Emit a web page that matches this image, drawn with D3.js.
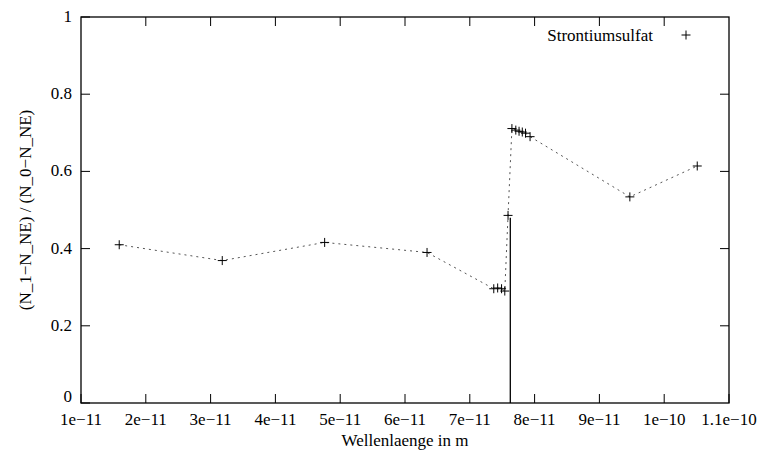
<!DOCTYPE html>
<html>
<head>
<meta charset="utf-8">
<script src="https://cdn.jsdelivr.net/npm/d3@7"></script>
</head>
<body style="margin:0">
<div id="wrapper"></div>
<script>
// DATA
const wavelengths = [1.59e-11, 3.18e-11, 4.76e-11, 6.34e-11,
    7.37e-11, 7.43e-11, 7.49e-11, 7.54e-11, 7.59e-11,
    7.65e-11, 7.71e-11, 7.76e-11, 7.81e-11, 7.86e-11, 7.93e-11,
    9.47e-11, 1.051e-10]
const ratios = [0.410, 0.369, 0.416, 0.390,
    0.296, 0.298, 0.296, 0.290, 0.486,
    0.711, 0.707, 0.704, 0.702, 0.699, 0.690,
    0.534, 0.614]
const xTicks = [1e-11, 2e-11, 3e-11, 4e-11, 5e-11, 6e-11, 7e-11, 8e-11, 9e-11, 1e-10, 1.1e-10]
const xTickLabels = ["1e\u221211", "2e\u221211", "3e\u221211", "4e\u221211", "5e\u221211", "6e\u221211",
    "7e\u221211", "8e\u221211", "9e\u221211", "1e\u221210", "1.1e\u221210"]
const yTicks = [0, 0.2, 0.4, 0.6, 0.8, 1]
const yTickLabels = ["0", "0.2", "0.4", "0.6", "0.8", "1"]
// solid marker line (edge) from 0 up to the jump point
const edge = { x: 7.625e-11, y0: 0, y1: 0.48 }
const seriesName = "Strontiumsulfat"

const data = wavelengths.map((w, i) => ({ x: w, y: ratios[i] }))

const dimensions = {
    width: 763,
    height: 452,
    margin: { top: 17, right: 34, bottom: 49, left: 81 }
}
dimensions.boundedWidth = dimensions.width - dimensions.margin.left - dimensions.margin.right
dimensions.boundedHeight = dimensions.height - dimensions.margin.top - dimensions.margin.bottom

const svg = d3.select('#wrapper').append('svg')
    .attr('width', dimensions.width)
    .attr('height', dimensions.height)

const bounds = svg.append('g')
    .attr('transform', `translate(${dimensions.margin.left},${dimensions.margin.top})`)

const xScale = d3.scaleLinear()
    .domain([1e-11, 1.1e-10])
    .range([0, dimensions.boundedWidth])

const yScale = d3.scaleLinear()
    .domain([0, 1])
    .range([dimensions.boundedHeight, 0])

const tickLen = 9

// serif text: drawn at 24px and scaled down to ~17px
const k = 17 / 24
function label(parent, x, y, str, anchor, angle = 0) {
    return parent.append('text')
        .attr('transform', `translate(${x},${y}) rotate(${angle}) scale(${k})`)
        .attr('text-anchor', anchor)
        .style('font-family', "'Liberation Serif'")
        .style('font-size', '24px')
        .attr('fill', '#000')
        .text(str)
}

// frame
bounds.append('rect')
    .attr('width', dimensions.boundedWidth)
    .attr('height', dimensions.boundedHeight)
    .attr('fill', 'none')
    .attr('stroke', '#000')
    .attr('stroke-width', 1.3)

// ticks: inward, mirrored on top and right
xTicks.forEach((t, i) => {
    const x = xScale(t)
    bounds.append('line')
        .attr('x1', x).attr('x2', x)
        .attr('y1', dimensions.boundedHeight).attr('y2', dimensions.boundedHeight - tickLen)
        .attr('stroke', '#000')
    if (i > 0 && i < xTicks.length - 1) {
        bounds.append('line')
            .attr('x1', x).attr('x2', x)
            .attr('y1', 0).attr('y2', tickLen)
            .attr('stroke', '#000')
    }
    label(bounds, x, dimensions.boundedHeight + 22, xTickLabels[i], 'middle')
})

yTicks.forEach((t, i) => {
    const y = yScale(t)
    bounds.append('line')
        .attr('x1', 0).attr('x2', tickLen)
        .attr('y1', y).attr('y2', y)
        .attr('stroke', '#000')
    if (i > 0 && i < yTicks.length - 1) {
        bounds.append('line')
            .attr('x1', dimensions.boundedWidth).attr('x2', dimensions.boundedWidth - tickLen)
            .attr('y1', y).attr('y2', y)
            .attr('stroke', '#000')
    }
    label(bounds, -9, t === 0 ? y - 1 : y + 5, yTickLabels[i], 'end')
})

// dotted connecting line
const lineGenerator = d3.line()
    .x(d => xScale(d.x))
    .y(d => yScale(d.y))

bounds.append('path')
    .datum(data)
    .attr('d', lineGenerator)
    .attr('fill', 'none')
    .attr('stroke', '#555')
    .attr('stroke-width', 1)
    .attr('stroke-dasharray', '2,4')

// solid edge line
bounds.append('line')
    .attr('x1', xScale(edge.x)).attr('x2', xScale(edge.x))
    .attr('y1', yScale(edge.y0)).attr('y2', yScale(edge.y1))
    .attr('stroke', '#000')
    .attr('stroke-width', 1.3)

// + markers
const cross = 4.5
const crossPath = (cx, cy) => `M${cx - cross},${cy}H${cx + cross}M${cx},${cy - cross}V${cy + cross}`

bounds.selectAll('.pt')
    .data(data)
    .enter().append('path')
    .attr('class', 'pt')
    .attr('d', d => crossPath(xScale(d.x), yScale(d.y)))
    .attr('stroke', '#000')
    .attr('stroke-width', 1)
    .attr('fill', 'none')

// legend
label(svg, 653, 41, seriesName, 'end')
svg.append('path')
    .attr('d', crossPath(686, 35))
    .attr('stroke', '#000')
    .attr('fill', 'none')

// axis titles
label(svg, dimensions.margin.left + dimensions.boundedWidth / 2, 446, 'Wellenlaenge in m', 'middle')
label(svg, 31, dimensions.margin.top + dimensions.boundedHeight / 2,
    '(N_1\u2212N_NE) / (N_0\u2212N_NE)', 'middle', -90)
</script>
</body>
</html>
